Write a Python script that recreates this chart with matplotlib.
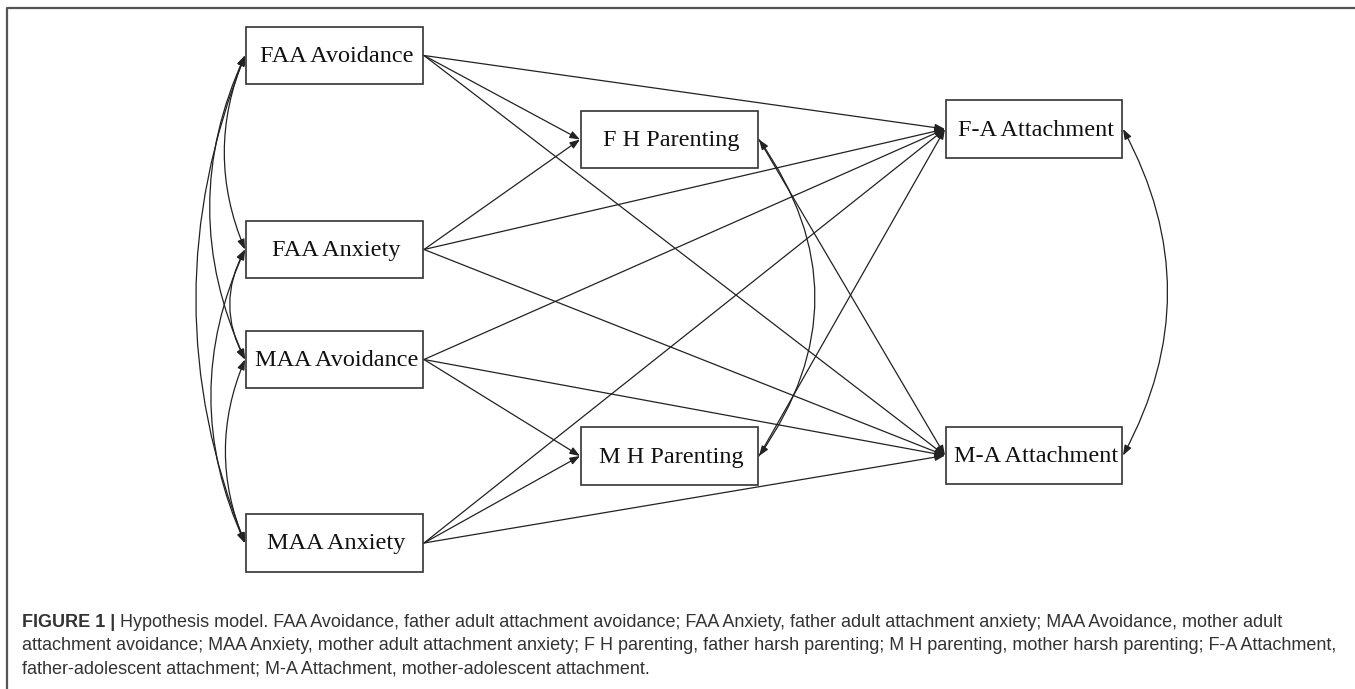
import matplotlib.pyplot as plt
from matplotlib.patches import Rectangle, FancyArrowPatch

# nodes of the path model and their boxes (left, top, right, bottom) in pixels
nodes = ["FAA Avoidance", "FAA Anxiety", "MAA Avoidance", "MAA Anxiety",
         "F H Parenting", "M H Parenting", "F-A Attachment", "M-A Attachment"]
boxes = {
    "FAA Avoidance": (246, 27, 423, 84),
    "FAA Anxiety": (246, 221, 423, 278),
    "MAA Avoidance": (246, 331, 423, 388),
    "MAA Anxiety": (246, 514, 423, 572),
    "F H Parenting": (581, 111, 758, 168),
    "M H Parenting": (581, 427, 758, 485),
    "F-A Attachment": (946, 100, 1122, 158),
    "M-A Attachment": (946, 427, 1122, 484),
}

# directed paths
paths = [
    ("FAA Avoidance", "F H Parenting"), ("FAA Avoidance", "F-A Attachment"), ("FAA Avoidance", "M-A Attachment"),
    ("FAA Anxiety", "F H Parenting"), ("FAA Anxiety", "F-A Attachment"), ("FAA Anxiety", "M-A Attachment"),
    ("MAA Avoidance", "M H Parenting"), ("MAA Avoidance", "F-A Attachment"), ("MAA Avoidance", "M-A Attachment"),
    ("MAA Anxiety", "M H Parenting"), ("MAA Anxiety", "F-A Attachment"), ("MAA Anxiety", "M-A Attachment"),
    ("F H Parenting", "M-A Attachment"), ("M H Parenting", "F-A Attachment"),
]

# covariances (side, curvature)
covs = [
    ("FAA Avoidance", "FAA Anxiety", "left", 0.21),
    ("FAA Avoidance", "MAA Avoidance", "left", 0.23),
    ("FAA Avoidance", "MAA Anxiety", "left", 0.20),
    ("FAA Anxiety", "MAA Avoidance", "left", 0.27),
    ("FAA Anxiety", "MAA Anxiety", "left", 0.23),
    ("MAA Avoidance", "MAA Anxiety", "left", 0.21),
    ("F H Parenting", "M H Parenting", "right", 0.35),
    ("F-A Attachment", "M-A Attachment", "right", 0.27),
]

caption_lines = [
    "Hypothesis model. FAA Avoidance, father adult attachment avoidance; FAA Anxiety, father adult attachment anxiety; MAA Avoidance, mother adult",
    "attachment avoidance; MAA Anxiety, mother adult attachment anxiety; F H parenting, father harsh parenting; M H parenting, mother harsh parenting; F-A Attachment,",
    "father-adolescent attachment; M-A Attachment, mother-adolescent attachment.",
]

W, H = 1355, 689
fig = plt.figure(figsize=(W / 100, H / 100), dpi=100)
ax = fig.add_axes([0, 0, 1, 1])
ax.set_xlim(0, W)
ax.set_ylim(H, 0)
ax.axis("off")

# frame (left and top edges visible)
ax.plot([7, 7, W], [H, 8, 8], color="#555555", lw=1.6, solid_capstyle="butt")

line_col = "#222222"


def left_mid(n):
    l, t, r, b = boxes[n]
    return (l - 1, (t + b) / 2)


def right_mid(n):
    l, t, r, b = boxes[n]
    return (r + 1, (t + b) / 2)


for n in nodes:
    l, t, r, b = boxes[n]
    ax.add_patch(Rectangle((l, t), r - l, b - t, fill=False, ec="#333333", lw=1.2, zorder=3))
    ax.text((l + r) / 2 + 2, (t + b) / 2 + 1, n, ha="center", va="center",
            fontsize=17.5, family="Liberation Serif", color="#111111", zorder=4)

for a, b in paths:
    arr = FancyArrowPatch(right_mid(a), left_mid(b), arrowstyle="-|>,head_length=0.6,head_width=0.22",
                          mutation_scale=10, shrinkA=0, shrinkB=0, lw=0.9, color=line_col, zorder=2)
    ax.add_patch(arr)

for a, b, side, rad in covs:
    if side == "left":
        pa, pb = left_mid(a), left_mid(b)
        r = rad
    else:
        pa, pb = right_mid(a), right_mid(b)
        r = -rad
    arr = FancyArrowPatch(pa, pb, arrowstyle="<|-|>,head_length=0.6,head_width=0.22",
                          connectionstyle=f"arc3,rad={r}", mutation_scale=10,
                          shrinkA=0, shrinkB=0, lw=0.9, color=line_col, zorder=2)
    ax.add_patch(arr)

# caption
cap_font = ["Liberation Sans", "DejaVu Sans"]
cap_size = 13
base_y = [627, 650, 673]
bold = ax.text(22, base_y[0], "FIGURE 1 |", fontsize=cap_size, family=cap_font,
               fontweight="bold", color="#333333", va="baseline", ha="left")
fig.canvas.draw()
renderer = fig.canvas.get_renderer()
bw = bold.get_window_extent(renderer).width
ax.text(22 + bw + 5, base_y[0], caption_lines[0], fontsize=cap_size, family=cap_font,
        color="#333333", va="baseline", ha="left")
for y, line in zip(base_y[1:], caption_lines[1:]):
    ax.text(22, y, line, fontsize=cap_size, family=cap_font, color="#333333",
            va="baseline", ha="left")

fig.savefig("out.png", dpi=100)
